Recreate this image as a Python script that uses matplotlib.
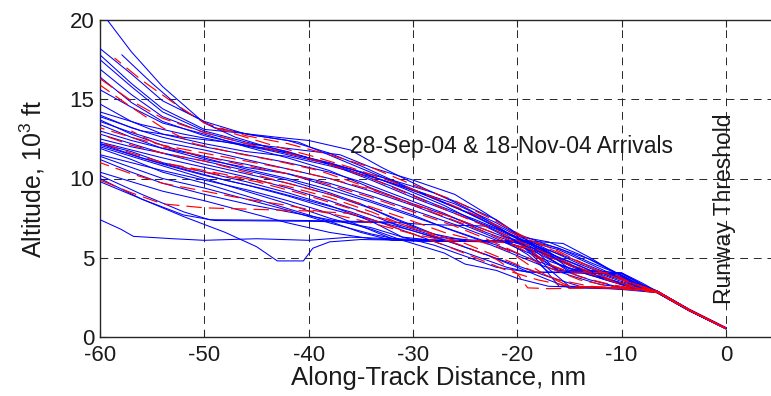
import matplotlib
matplotlib.use("Agg")
import matplotlib.pyplot as plt

plt.rcParams['font.family'] = ['Liberation Sans', 'DejaVu Sans']
plt.rcParams['mathtext.fontset'] = 'custom'
plt.rcParams['mathtext.rm'] = 'Liberation Sans'
plt.rcParams['mathtext.default'] = 'rm'
plt.rcParams['axes.unicode_minus'] = False

# ---------------- data (along-track distance nm, altitude kft) ----------------
b01 = [(-59.3,20.0),(-57,18.0),(-54,15.8),(-50,13.5),(-47,12.6),(-44,12.0),(-40,11.3),(-36,10.5),(-32,9.5),(-28,8.4),(-24,7.4),(-20,6.3),(-17,5.2),(-14,4.2),(-10,3.4),(-6.6,2.85),(-3.5,1.70),(0,0.55)]
b02 = [(-60,18.2),(-57,16.6),(-54,14.9),(-50,13.6),(-46,12.8),(-42,12.4),(-38,11.6),(-35,10.8),(-31,9.6),(-27,8.5),(-23,7.3),(-20,6.2),(-16,5.5),(-12,4.3),(-9,3.4),(-6.6,2.9),(-3.5,1.72),(0,0.58)]
b03 = [(-60,17.8),(-57,16.0),(-54,14.4),(-50,13.1),(-47,12.9),(-43,12.6),(-40,12.4),(-36,11.8),(-33,10.7),(-29,9.4),(-26,8.5),(-24.5,8.0),(-22,7.0),(-19.7,6.1),(-15.6,5.9),(-13,5.0),(-11,4.2),(-9,3.5),(-6.6,2.9),(-3.5,1.75),(0,0.6)]
b04 = [(-60,17.5),(-57,15.8),(-54,14.2),(-50,13.0),(-46,12.3),(-42,11.7),(-38,10.9),(-34,9.9),(-30,8.8),(-26,7.8),(-22,6.8),(-19,5.9),(-16,5.0),(-13,4.2),(-10,3.5),(-6.6,2.85),(-3.5,1.68),(0,0.55)]
b05 = [(-60,16.9),(-57,15.3),(-54,13.9),(-50,12.9),(-46,12.2),(-42,11.9),(-37,11.5),(-34,10.7),(-30,9.9),(-26,9.0),(-23,7.8),(-20,6.5),(-17,5.8),(-13,4.9),(-10,3.9),(-8,3.2),(-6.6,2.85),(-3.5,1.7),(0,0.55)]
b06 = [(-57.9,17.8),(-55,16.0),(-52,14.3),(-49,13.2),(-45,12.7),(-41,12.3),(-37,11.2),(-33,10.1),(-29,9.0),(-25,7.9),(-21,6.6),(-18,5.7),(-15,4.6),(-12,3.8),(-9,3.2),(-6.6,2.8),(-3.5,1.66),(0,0.52)]
b07 = [(-60,15.6),(-57,14.5),(-54,13.5),(-50,12.8),(-46,12.0),(-42,11.3),(-38,10.5),(-34,9.4),(-30,8.4),(-26,7.5),(-22,6.5),(-19,5.8),(-16,4.8),(-13,4.0),(-10,3.3),(-6.6,2.82),(-3.5,1.68),(0,0.54)]
b08 = [(-60,14.0),(-57,13.2),(-54,12.6),(-50,12.0),(-46,11.5),(-42,11.0),(-38,10.4),(-35,9.8),(-31,8.8),(-27,7.8),(-23,6.6),(-20,5.9),(-17,5.3),(-14,4.5),(-11,3.6),(-8,3.0),(-6.6,2.85),(-3.5,1.7),(0,0.55)]
b09 = [(-60,13.7),(-57,12.8),(-54,12.1),(-50,11.3),(-46,10.6),(-42,10.0),(-38,9.3),(-34,8.5),(-30,7.6),(-26,6.7),(-22,5.8),(-19,5.0),(-16,4.3),(-13,3.6),(-10,3.1),(-6.6,2.8),(-3.5,1.65),(0,0.52)]
b10 = [(-60,13.4),(-57,12.6),(-54,11.9),(-50,11.2),(-46,10.7),(-42,10.3),(-38,9.7),(-34,8.9),(-30,8.0),(-26,7.1),(-22,6.1),(-18,5.4),(-15,4.6),(-12,3.7),(-9,3.1),(-6.6,2.85),(-3.5,1.7),(0,0.55)]
b11 = [(-60,12.3),(-57,11.8),(-54,11.3),(-50,10.7),(-46,10.1),(-42,9.4),(-38,8.6),(-34,7.7),(-31,6.9),(-28,6.3),(-24,6.1),(-19,6.05),(-17,5.3),(-15,4.3),(-11,4.1),(-9,3.4),(-6.6,2.9),(-3.5,1.72),(0,0.56)]
b12 = [(-60,12.2),(-57,11.7),(-54,11.0),(-50,10.4),(-46,9.8),(-42,9.1),(-38,8.3),(-34,7.3),(-31,6.3),(-28,6.1),(-20,6.0),(-18,5.0),(-16,4.2),(-12,4.05),(-10,3.8),(-8,3.1),(-6.6,2.85),(-3.5,1.7),(0,0.55)]
b13 = [(-60,11.5),(-57,11.0),(-54,10.5),(-50,9.9),(-46,9.3),(-42,8.6),(-38,7.8),(-35,7.0),(-32,6.2),(-29,6.05),(-21,6.0),(-19,5.2),(-17,4.1),(-11,4.0),(-9,3.3),(-6.6,2.85),(-3.5,1.7),(0,0.55)]
b14 = [(-60,11.4),(-57,10.7),(-54,10.0),(-50,9.4),(-46,8.7),(-42,8.0),(-38,7.2),(-34,6.5),(-31,6.1),(-20,6.05),(-18,4.8),(-16,3.2),(-12,3.1),(-8,3.0),(-6.6,2.8),(-3.5,1.65),(0,0.52)]
b15 = [(-60,10.4),(-57,9.8),(-54,9.2),(-50,8.6),(-46,7.9),(-42,7.2),(-38,6.6),(-34,6.2),(-30,6.05),(-19,6.0),(-17,5.0),(-15,4.1),(-10,4.05),(-8,3.3),(-6.6,2.85),(-3.5,1.7),(0,0.55)]
b16 = [(-60,10.2),(-56,9.0),(-52,7.9),(-49.5,7.4),(-40,7.35),(-32,7.25),(-29,7.1),(-23,7.0),(-21,6.4),(-19,5.6),(-16,4.6),(-13,3.9),(-10,3.4),(-6.6,2.85),(-3.5,1.7),(0,0.55)]
b17 = [(-60,10.0),(-56,8.7),(-52,7.7),(-49,7.35),(-40,7.3),(-32,7.2),(-29,6.6),(-26,5.9),(-23,5.2),(-20,4.5),(-17,3.8),(-14,3.2),(-10,3.0),(-6.6,2.8),(-3.5,1.65),(0,0.52)]
b18 = [(-60,9.8),(-56,8.7),(-52,7.6),(-48,6.6),(-45,5.7),(-43,4.8),(-40.5,4.8),(-39.6,5.6),(-38,6.0),(-35,6.15),(-30,6.1),(-20,6.0),(-18,5.1),(-16,4.1),(-10,4.0),(-8,3.3),(-6.6,2.9),(-3.5,1.72),(0,0.57)]
b19 = [(-60,7.4),(-58,6.8),(-56.8,6.35),(-53,6.2),(-50,6.1),(-45,6.2),(-40,6.1),(-36,6.3),(-32,6.2),(-26,6.1),(-20,6.05),(-18,5.3),(-16,4.1),(-11,4.05),(-9,3.4),(-6.6,2.85),(-3.5,1.7),(0,0.55)]
b20 = [(-60,13.0),(-57,12.4),(-54,11.9),(-50,11.4),(-46,10.9),(-42,10.3),(-38,9.5),(-34,8.6),(-30,7.7),(-27,6.9),(-24,6.2),(-21,5.4),(-18,4.6),(-15,3.9),(-12,3.3),(-8,3.0),(-6.6,2.85),(-3.5,1.7),(0,0.55)]
b21 = [(-60,12.1),(-57,11.5),(-54,10.9),(-50,10.2),(-46,9.6),(-42,8.9),(-38,8.1),(-34,7.4),(-30,6.7),(-26,5.9),(-23,5.2),(-20,4.4),(-17,3.6),(-15,3.1),(-8,3.0),(-6.6,2.8),(-3.5,1.65),(0,0.53)]
b22 = [(-60,12.0),(-57,11.4),(-54,10.8),(-50,10.0),(-46,9.2),(-42,8.4),(-38,7.5),(-34,6.8),(-31,6.1),(-27,5.3),(-25,4.6),(-22,4.2),(-20,3.7),(-17,3.2),(-12,3.1),(-8,3.0),(-6.6,2.82),(-3.5,1.68),(0,0.54)]
b23 = [(-60,14.2),(-56,13.4),(-52,12.8),(-48,12.3),(-44,11.8),(-40,11.2),(-36,10.6),(-32,9.7),(-29,9.0),(-26,8.2),(-23,7.4),(-20,6.4),(-17,5.5),(-14,4.6),(-11,3.8),(-8,3.2),(-6.6,2.9),(-3.5,1.72),(0,0.58)]
b24 = [(-60,13.6),(-57,12.9),(-54,12.3),(-50,11.8),(-46,11.2),(-42,10.6),(-38,10.0),(-34,9.2),(-30,8.3),(-26,7.3),(-23,6.5),(-20,5.6),(-17,4.8),(-14,4.1),(-11,3.5),(-8,3.05),(-6.6,2.85),(-3.5,1.7),(0,0.55)]
b25 = [(-60,12.5),(-57,12.0),(-54,11.6),(-50,11.1),(-46,10.5),(-42,9.9),(-38,9.1),(-35,8.4),(-32,7.5),(-29,6.7),(-26,6.1),(-22,6.05),(-19,6.0),(-17,5.4),(-15,4.5),(-13,4.1),(-10,4.05),(-8,3.4),(-6.6,2.88),(-3.5,1.72),(0,0.56)]
b26 = [(-60,11.2),(-57,10.4),(-54,9.7),(-50,9.0),(-46,8.4),(-42,7.9),(-38,7.4),(-34,6.9),(-31,6.3),(-28,5.8),(-25,5.1),(-22,4.4),(-19,4.1),(-12,4.05),(-10,3.7),(-8,3.1),(-6.6,2.85),(-3.5,1.7),(0,0.55)]
b27 = [(-60,16.4),(-57,14.8),(-54,13.6),(-50,12.7),(-46,12.1),(-42,11.6),(-38,11.0),(-35,10.4),(-31,9.4),(-27,8.3),(-24,7.3),(-21,6.3),(-18,5.7),(-15,5.0),(-12,4.2),(-9,3.4),(-6.6,2.9),(-3.5,1.73),(0,0.58)]
b28 = [(-60,12.8),(-57,12.2),(-54,11.6),(-50,10.9),(-46,10.3),(-42,9.7),(-38,9.0),(-34,8.1),(-31,7.3),(-28,6.5),(-25,6.1),(-21,6.05),(-19,5.8),(-17,5.0),(-15,4.2),(-12,4.1),(-10,4.0),(-8,3.3),(-6.6,2.85),(-3.5,1.7),(0,0.55)]
b29 = [(-60,11.9),(-57,11.2),(-54,10.4),(-50,9.7),(-46,8.9),(-42,8.1),(-38,7.3),(-35,6.6),(-32,6.1),(-21,6.0),(-18.5,5.4),(-17,4.3),(-15,3.2),(-10,3.1),(-7,3.0),(-6.6,2.85),(-3.5,1.68),(0,0.54)]
b30 = [(-60,14.7),(-57,13.6),(-54,12.8),(-50,12.2),(-46,11.7),(-42,11.4),(-38,10.8),(-34,10.1),(-30,9.3),(-26,8.4),(-22,7.2),(-19,6.1),(-16,5.6),(-13,4.7),(-10,3.9),(-8,3.2),(-6.6,2.9),(-3.5,1.72),(0,0.57)]
b31 = [(-60,13.9),(-56,13.0),(-52,12.6),(-48,12.3),(-44,11.9),(-40,11.3),(-36,10.6),(-32,9.9),(-28,9.1),(-25,8.3),(-22,7.4),(-19.5,6.3),(-17,6.0),(-14,5.2),(-11,4.2),(-9,3.5),(-6.6,2.9),(-3.5,1.74),(0,0.58)]
b32 = [(-60,12.2),(-56,11.3),(-52,10.6),(-48,9.9),(-44,9.3),(-40,8.6),(-36,7.9),(-33,7.2),(-30,6.5),(-27,5.8),(-24,5.1),(-21,4.4),(-19,4.1),(-11,4.0),(-9,3.4),(-6.6,2.85),(-3.5,1.7),(0,0.55)]

r01 = [(-60,16.3),(-57,14.9),(-54,13.8),(-50,12.9),(-46,12.2),(-42,11.6),(-38,10.9),(-34,10.0),(-30,8.9),(-26,7.8),(-22,6.7),(-19,5.8),(-16,4.9),(-13,4.1),(-10,3.4),(-6.6,2.85),(-3.5,1.7),(0,0.55)]
r02 = [(-60,15.9),(-57,14.5),(-54,13.2),(-51,12.2),(-47,11.6),(-43,11.1),(-39,10.5),(-35,9.6),(-31,8.6),(-27,7.6),(-23,6.6),(-20,5.7),(-17,4.6),(-14,3.8),(-11,3.3),(-6.6,2.85),(-3.5,1.7),(0,0.55)]
r03 = [(-58.6,17.6),(-56,16.2),(-53,14.8),(-50,13.5),(-46,12.7),(-42,12.2),(-38,11.5),(-34,10.7),(-30,9.6),(-26,8.6),(-22,7.3),(-19,6.2),(-16,5.4),(-13,4.4),(-10,3.6),(-6.6,2.9),(-3.5,1.72),(0,0.56)]
r04 = [(-60,13.2),(-57,12.6),(-54,12.1),(-50,11.6),(-46,11.1),(-42,10.6),(-38,10.0),(-34,9.3),(-30,8.4),(-26,7.5),(-22,6.5),(-19,5.6),(-16,4.8),(-13,4.0),(-10,3.3),(-6.6,2.85),(-3.5,1.7),(0,0.55)]
r05 = [(-60,12.8),(-57,12.1),(-54,11.6),(-50,11.1),(-46,10.4),(-42,9.7),(-38,9.0),(-34,8.2),(-30,7.3),(-27,6.6),(-24,6.1),(-21,5.5),(-19,4.6),(-17,3.8),(-15,3.2),(-10,3.1),(-6.6,2.85),(-3.5,1.68),(0,0.55)]
r06 = [(-60,12.3),(-57,11.6),(-54,11.0),(-50,10.5),(-46,10.0),(-42,9.5),(-38,8.8),(-34,7.9),(-31,7.1),(-28,6.4),(-25,5.7),(-22,4.9),(-20,4.0),(-19,3.1),(-17,3.05),(-12,3.1),(-8,3.0),(-6.6,2.85),(-3.5,1.7),(0,0.55)]
r07 = [(-60,9.9),(-57,9.1),(-54,8.4),(-50,8.15),(-45,8.05),(-40,7.95),(-36,7.8),(-33,7.2),(-30,6.5),(-27,5.8),(-24,5.0),(-21,4.2),(-18,3.6),(-15,3.2),(-10,3.05),(-6.6,2.8),(-3.5,1.66),(0,0.53)]
r08 = [(-49,13.2),(-46,12.6),(-43,12.0),(-39.6,11.4),(-36,10.7),(-32,9.8),(-28,8.8),(-24,7.7),(-21,6.7),(-18,5.9),(-15,5.0),(-12,4.1),(-9,3.4),(-6.6,2.9),(-3.5,1.72),(0,0.57)]
r09 = [(-60,11.0),(-57,10.3),(-54,9.7),(-50,9.2),(-46,8.7),(-42,8.3),(-38,7.8),(-34,7.2),(-30,6.5),(-27,6.1),(-22,6.05),(-19,5.6),(-17,4.6),(-15,4.1),(-11,4.05),(-9,3.4),(-6.6,2.85),(-3.5,1.7),(0,0.55)]
r10 = [(-57,13.0),(-54,12.0),(-50,11.4),(-46,10.8),(-42,10.3),(-38,9.6),(-34,8.8),(-30,7.9),(-26,7.0),(-23,6.2),(-20,5.3),(-17,4.4),(-14,3.6),(-11,3.2),(-6.6,2.85),(-3.5,1.7),(0,0.55)]
r11 = [(-53,10.8),(-49,10.3),(-45,9.8),(-41,9.1),(-37,8.3),(-33,7.5),(-29,6.7),(-25,5.9),(-22,5.1),(-19,4.3),(-16,3.6),(-13,3.2),(-8,3.0),(-6.6,2.85),(-3.5,1.7),(0,0.55)]

blue_tracks = [b01, b02, b03, b04, b05, b06, b07, b08, b09, b10, b11, b12, b13, b14, b15, b16,
               b17, b18, b19, b20, b21, b22, b23, b24, b25, b26, b27, b28, b29, b30, b31, b32]
red_tracks = [r01, r02, r03, r04, r05, r06, r07, r08, r09, r10, r11]

x_ticks = [-60, -50, -40, -30, -20, -10, 0]
y_ticks = [0, 5, 10, 15, 20]
x_label = "Along-Track Distance, nm"
y_label = "Altitude, 10$^3$ ft"
note_text = "28-Sep-04 & 18-Nov-04 Arrivals"
runway_text = "Runway Threshold"

# ---------------- figure ----------------
fig = plt.figure(figsize=(7.71, 3.96), dpi=100)
ax = fig.add_axes([100/771, 59/396, 678/771, 317/396])

for tr in blue_tracks:
    xs = [p[0] for p in tr]
    ys = [p[1] for p in tr]
    ax.plot(xs, ys, color='#0000ff', lw=0.75, zorder=3)

for i, tr in enumerate(red_tracks):
    xs = [p[0] for p in tr]
    ys = [p[1] for p in tr]
    ax.plot(xs, ys, color='#ff0000', lw=0.85, zorder=4,
            linestyle=(i * 3, (13, 6)))

ax.set_xlim(-60, 5)
ax.set_ylim(0, 20)
ax.set_xticks(x_ticks)
ax.set_yticks(y_ticks)
ax.grid(True, color='0.15', linestyle=(0, (8, 6)), linewidth=0.7, zorder=1)
ax.set_axisbelow(True)

for s in ax.spines.values():
    s.set_color('0.15')
    s.set_linewidth(1.0)

ax.tick_params(direction='in', top=True, right=True, length=5, width=0.8,
               labelsize=16, color='0.15', labelcolor='0.1')
ax.tick_params(axis='x', pad=6)
ax.tick_params(axis='y', pad=4)

ax.set_xlabel(x_label, fontsize=18.5, color='0.1', labelpad=0)
ax.set_ylabel(y_label, fontsize=18, color='0.1', labelpad=16)

ax.text(-36.0, 12.0, note_text, fontsize=16.5, color='0.1', ha='left', va='center', zorder=5)
ax.text(-0.1, 8.1, runway_text, fontsize=16.5, color='0.1', rotation=90,
        ha='center', va='center', zorder=5)

fig.savefig('out.png', dpi=100)
